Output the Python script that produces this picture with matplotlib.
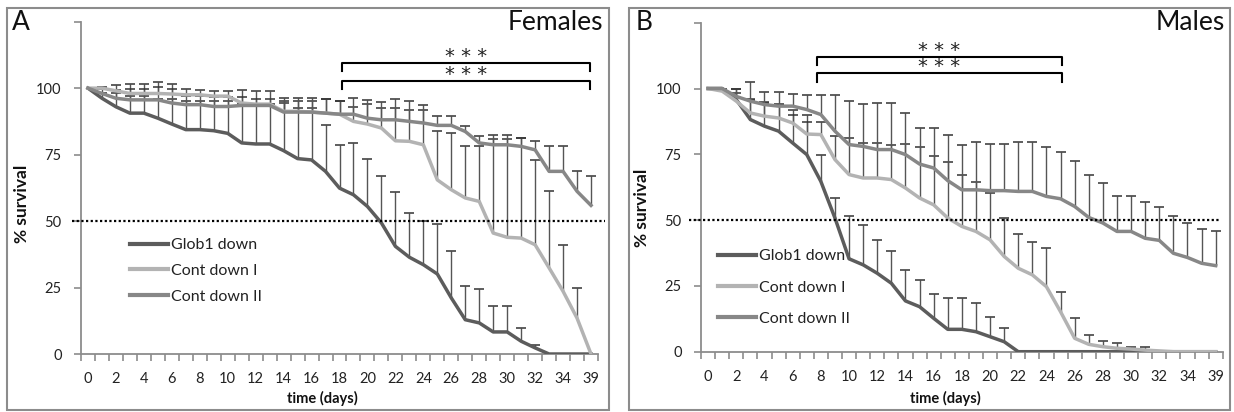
"""Curvas de supervivencia (Glob1 knock-down) para hembras (A) y machos (B).

Reproduce la figura de dos paneles con barras de error solo hacia arriba,
linea de referencia al 50 % y corchetes de significacion.
"""

import matplotlib

matplotlib.use("Agg")
import matplotlib.pyplot as plt
import numpy as np
from matplotlib.patches import Rectangle

plt.rcParams["font.family"] = ["Lato", "DejaVu Sans"]

ANCHO_PX, ALTO_PX = 1234, 412

# Eje x: dias registrados (el ultimo punto es el dia 39)
DIAS = list(range(36)) + [39]

# --- Panel A: hembras ---
GLOB1_F = [100, 96.2, 93, 90.6, 90.6, 88.7, 86.5, 84.4, 84.4, 84, 83, 79.4, 79, 79,
           76.5, 73.5, 73, 68.7, 62.4, 59.9, 55.5, 49.3, 40.5, 36.4, 33.6, 30.1, 21.1,
           12.9, 11.7, 8.3, 8.3, 4.8, 2.3, 0, 0, 0, 0]
GLOB1_F_ERR = [0, 1.8, 5, 6.4, 6.4, 7.3, 9.5, 10.6, 10.6, 11, 12, 14.6, 15, 15,
               18, 19, 19.5, 17.3, 16.3, 19.5, 17.8, 17.5, 20.4, 16.6, 16.3, 18.8, 17.7,
               12.5, 12.9, 9.6, 9.6, 5, 1.2, 0, 0, 0, 0]
CONT1_F = [100, 100, 99, 98, 98, 98, 97.8, 97.5, 97.5, 97, 97, 94.4, 94, 94,
           91.3, 91.3, 91, 90.6, 90.2, 87.5, 86.5, 85, 80.2, 80, 78.7, 65.5, 61.8,
           58.7, 57.4, 45.5, 43.9, 43.6, 41.1, 32.4, 23.6, 13.5, 0]
CONT1_F_ERR = [0, 0.5, 2.3, 3.5, 3.5, 4.5, 3.7, 2.3, 1.9, 1.8, 2, 5, 5, 5,
               3.7, 3.7, 4, 5.4, 5.1, 5.6, 7.5, 7.7, 12.5, 11.9, 13.2, 18.5, 21.3,
               19.4, 20.7, 35.5, 37, 37.5, 32, 28.8, 17.5, 11.3, 0]
CONT2_F = [100, 98, 96.2, 95.6, 95.6, 95.6, 94.4, 93.8, 93.8, 93.1, 93.1, 93.5, 93.5, 93.5,
           91, 91, 91, 90.6, 90.2, 90.2, 88.7, 88.1, 88.1, 87.5, 86.9, 86, 86,
           83.7, 79.4, 78.7, 78.7, 78.1, 76.8, 68.7, 68.7, 61.2, 55.9]
CONT2_F_ERR = [0, 1.5, 3.2, 3.9, 3.9, 4.7, 5.1, 3.2, 3.2, 3.4, 3.4, 3, 2.5, 2.5,
               5.3, 5.3, 5.3, 5.4, 5.1, 6.1, 6.9, 6.7, 7.9, 7.8, 6.9, 3.7, 3.7,
               1.9, 2.6, 3.8, 3.8, 3.1, 3.2, 9.4, 9.4, 7.7, 11.1]

# --- Panel B: machos ---
GLOB1_M = [100, 100, 95.8, 88.2, 85.7, 83.8, 79.3, 74.9, 64.7, 50.8, 35.3, 33, 29.8, 26,
           19.3, 17.1, 12.7, 8.5, 8.5, 7.6, 5.7, 3.8, 0, 0, 0, 0, 0,
           0, 0, 0, 0, 0, 0, 0, 0, 0, 0]
GLOB1_M_ERR = [0, 0, 4.2, 7.8, 9.3, 10.2, 12.7, 15, 10.2, 7.6, 16.1, 15, 12.7, 12.1,
               11.8, 10.2, 9.1, 11.8, 11.8, 10.8, 7.6, 5.3, 0, 0, 0, 0, 0,
               0, 0, 0, 0, 0, 0, 0, 0, 0, 0]
CONT1_M = [100, 99, 95.2, 90.7, 89.5, 88.8, 86.9, 82.7, 82.5, 73, 67.3, 66, 66, 65.4,
           62.2, 58.4, 55.8, 50.8, 47.6, 45.7, 42.5, 36.2, 31.7, 29.2, 24.7, 15.2, 5.1,
           2.8, 1.9, 1.3, 1, 0.6, 0.3, 0, 0, 0, 0]
CONT1_M_ERR = [0, 1, 3.2, 5.1, 5, 4.9, 3.2, 4.6, 4.8, 8.9, 13.9, 13.3, 13.3, 13.3,
               16.8, 19.3, 18.4, 21.3, 19.4, 18.8, 17.8, 14.6, 13, 12.3, 14.6, 7.3, 7.6,
               3.5, 2.2, 1.9, 0.9, 1.3, 0, 0, 0, 0, 0]
CONT2_M = [100, 100, 97, 95.2, 93.9, 93.3, 93.3, 92, 90.1, 83.8, 78.7, 78, 76.8, 76.8,
           74.9, 71.3, 69.8, 65, 61.5, 61.5, 61.2, 61.2, 60.9, 60.9, 59, 58.1, 55.2,
           51, 48.9, 45.7, 45.7, 43.1, 42.3, 37.4, 35.8, 33.6, 32.7]
CONT2_M_ERR = [0, 0, 3, 7.3, 4.8, 5.4, 4.8, 5.5, 7.6, 13.9, 16.5, 16.2, 17.7, 17.7,
               15.8, 13.7, 15.2, 17.5, 17.2, 18.1, 17.9, 17.9, 18.8, 18.8, 18.7, 17.7, 17.1,
               16.3, 15.2, 13.6, 13.6, 13.6, 12.6, 14, 13.1, 13, 13.2]

ETIQUETAS = ["Glob1 down", "Cont down I", "Cont down II"]
COLORES = ["#5c5c5c", "#b3b3b3", "#878787"]
GRIS_EJE = "#8c8c8c"


def fig_xy(x_px: float, y_px: float) -> tuple[float, float]:
    """Pasa coordenadas en pixeles (origen arriba-izquierda) a fraccion de figura."""
    return x_px / ANCHO_PX, 1 - y_px / ALTO_PX


def dibujar_panel(ax, series, errores, corchete, y_corchetes, y_estrellas,
                  linea50, legend_xy, legend_sep) -> None:
    """Dibuja un panel completo: curvas, errores, ejes y anotaciones."""
    x = np.arange(len(DIAS))

    # Barras de error solo hacia arriba (tapa unicamente en el extremo superior)
    for serie, err in zip(series, errores, strict=True):
        serie = np.asarray(serie, dtype=float)
        err = np.asarray(err, dtype=float)
        hay = err > 0
        ax.vlines(x[hay], serie[hay], serie[hay] + err[hay], color="#555555",
                  lw=1.0, zorder=2)
        ax.plot(x[hay], serie[hay] + err[hay], linestyle="none", marker="_",
                markersize=6.5, markeredgewidth=1.1, color="#333333", zorder=2)

    for serie, color, etiqueta in zip(series, COLORES, ETIQUETAS, strict=True):
        ax.plot(x, serie, color=color, lw=2.5, label=etiqueta, zorder=3,
                solid_joinstyle="round")

    # Linea de referencia al 50 %
    ax.plot(linea50, [50, 50], color="black", lw=1.6, linestyle=(0, (1, 1.1)),
            clip_on=False, zorder=4)

    ax.set_xlim(-0.5, len(DIAS) - 0.5)
    ax.set_ylim(0, 125)

    ax.set_yticks([0, 25, 50, 75, 100, 125])
    ax.set_yticklabels(["0", "25", "50", "75", "100", ""])
    ax.set_xticks(x[::2])
    ax.set_xticklabels([str(d) for d in DIAS[::2]])
    ax.set_xticks(np.arange(-0.5, len(DIAS), 1), minor=True)

    for lado in ["top", "right"]:
        ax.spines[lado].set_visible(False)
    for lado in ["left", "bottom"]:
        ax.spines[lado].set_color(GRIS_EJE)
        ax.spines[lado].set_linewidth(1.3)

    ax.tick_params(axis="y", direction="out", length=5, width=1.2, color=GRIS_EJE,
                   pad=9, labelsize=10.5, labelcolor="#222222")
    ax.tick_params(axis="x", which="major", length=0, pad=13, labelsize=10.5,
                   labelcolor="#222222")
    ax.tick_params(axis="x", which="minor", direction="out", length=5, width=1.2,
                   color=GRIS_EJE)

    # Corchetes de significacion
    x0, x1 = corchete
    for (y_top, y_bot), y_txt in zip(y_corchetes, y_estrellas, strict=True):
        ax.plot([x0, x0, x1, x1], [y_bot, y_top, y_top, y_bot], color="black",
                lw=1.5, clip_on=False, zorder=5)
        ax.text((x0 + x1) / 2, y_txt, "* * *", ha="center", va="center",
                fontsize=14, clip_on=False, family=["DejaVu Sans"], color="#222222")

    leg = ax.legend(loc="upper left", bbox_to_anchor=fig_xy(*legend_xy),
                    bbox_transform=ax.figure.transFigure, frameon=False,
                    fontsize=11.5, handlelength=2.4, handletextpad=0.15,
                    labelspacing=legend_sep, borderpad=0, borderaxespad=0)
    for linea in leg.get_lines():
        linea.set_linewidth(3)
    for texto in leg.get_texts():
        texto.set_color("#222222")


def main() -> None:
    fig = plt.figure(figsize=(ANCHO_PX / 100, ALTO_PX / 100), dpi=100)

    # Marcos de los dos paneles
    for x0, x1 in [(7, 609), (629, 1230)]:
        esq = fig_xy(x0, 410)
        fig.patches.append(Rectangle(esq, (x1 - x0) / ANCHO_PX, 402 / ALTO_PX,
                                     transform=fig.transFigure, fill=False,
                                     edgecolor=GRIS_EJE, lw=1.5))

    ax_a = fig.add_axes([81 / ANCHO_PX, 58 / ALTO_PX, 517 / ANCHO_PX, 332.3 / ALTO_PX])
    ax_b = fig.add_axes([701 / ANCHO_PX, 60.3 / ALTO_PX, 521.7 / ANCHO_PX, 329 / ALTO_PX])

    dibujar_panel(ax_a, [GLOB1_F, CONT1_F, CONT2_F],
                  [GLOB1_F_ERR, CONT1_F_ERR, CONT2_F_ERR],
                  corchete=(18.2, 35.9),
                  y_corchetes=[(109.5, 106.3), (102.8, 99.7)],
                  y_estrellas=[111.8, 105.2],
                  linea50=(-1.15, 37.0), legend_xy=(130, 238), legend_sep=0.72)
    dibujar_panel(ax_b, [GLOB1_M, CONT1_M, CONT2_M],
                  [GLOB1_M_ERR, CONT1_M_ERR, CONT2_M_ERR],
                  corchete=(7.7, 25.1),
                  y_corchetes=[(112.1, 109.1), (105.7, 102.4)],
                  y_estrellas=[114.6, 108.2],
                  linea50=(-1.37, 36.4), legend_xy=(718, 249), legend_sep=1.08)

    # Rotulos de panel, titulos y ejes
    for x, y, txt, ha in [(12, 10, "A", "left"), (603, 10, "Females", "right"),
                          (636, 10, "B", "left"), (1225, 10, "Males", "right")]:
        fig.text(*fig_xy(x, y), txt, ha=ha, va="top", fontsize=19, color="#111111")

    for x, y in [(22, 204), (642, 208)]:
        fig.text(*fig_xy(x, y), "% survival", rotation=90, ha="center", va="center",
                 fontsize=12.5, fontweight="bold", color="#111111")
    for x, y in [(322, 398), (945, 398)]:
        fig.text(*fig_xy(x, y), "time (days)", ha="center", va="center",
                 fontsize=10.5, fontweight="bold", color="#111111")

    fig.savefig("out.png", dpi=100)


if __name__ == "__main__":
    main()
